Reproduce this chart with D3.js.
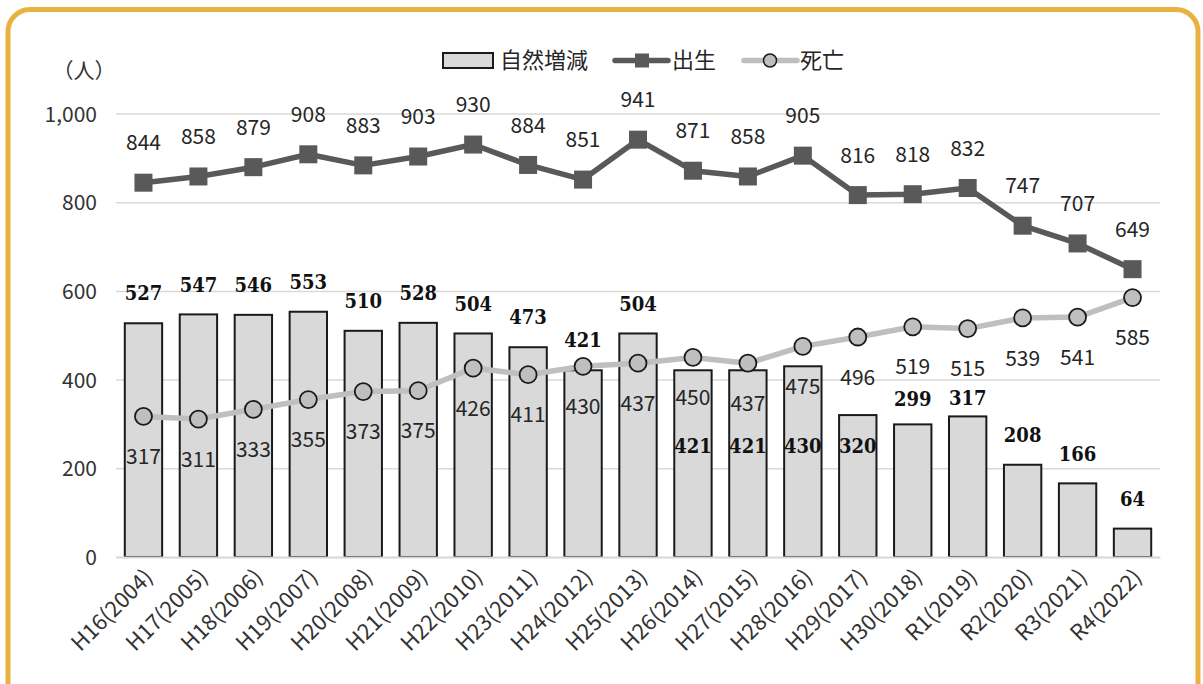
<!DOCTYPE html>
<html>
<head>
<meta charset="utf-8">
<script src="https://cdn.jsdelivr.net/npm/d3@7/dist/d3.min.js"></script>
<style>
  html, body { margin: 0; padding: 0; background: #fff; }
  svg { display: block; }
</style>
</head>
<body>
<svg id="chart" width="1203" height="684"></svg>
<script>
// ---- data ----
const categories = ["H16(2004)","H17(2005)","H18(2006)","H19(2007)","H20(2008)","H21(2009)","H22(2010)","H23(2011)","H24(2012)","H25(2013)","H26(2014)","H27(2015)","H28(2016)","H29(2017)","H30(2018)","R1(2019)","R2(2020)","R3(2021)","R4(2022)"];
const births = [844,858,879,908,883,903,930,884,851,941,871,858,905,816,818,832,747,707,649];
const deaths = [317,311,333,355,373,375,426,411,430,437,450,437,475,496,519,515,539,541,585];
const naturalChange = [527,547,546,553,510,528,504,473,421,504,421,421,430,320,299,317,208,166,64];
const yTicks = [0,200,400,600,800,1000];
const seriesNames = ["自然増減","出生","死亡"];
const unitLabel = "（人）";

// ---- layout ----
const W = 1203, H = 684;
const plot = {left: 116, right: 1160, top: 113.5, bottom: 557};
const svg = d3.select("#chart");
const sansFont = "'Noto Sans CJK JP', 'Noto Sans', sans-serif";
const serifFont = "'DejaVu Serif Condensed', 'DejaVu Serif', serif";

// border
svg.append("rect")
  .attr("x", 8).attr("y", 9.5).attr("width", W - 13).attr("height", H + 40)
  .attr("rx", 22).attr("ry", 22)
  .attr("fill", "#fff").attr("stroke", "#E9B23E").attr("stroke-width", 5);

const x = d3.scaleBand().domain(categories).range([plot.left, plot.right])
  .paddingInner(0.32).paddingOuter(0.16);
const y = d3.scaleLinear().domain([0, 1000]).range([plot.bottom, plot.top]);
const cx = c => x(c) + x.bandwidth() / 2;

// gridlines + y labels
const yAxis = d3.axisLeft(y).tickValues(yTicks).tickSize(0).tickPadding(0)
  .tickFormat(d3.format(","));
const gy = svg.append("g").attr("transform", `translate(${plot.left},0)`).call(yAxis);
gy.select(".domain").remove();
gy.selectAll(".tick line").clone()
  .attr("x2", plot.right - plot.left)
  .attr("stroke", "#d9d9d9").attr("stroke-width", 1.5);
gy.selectAll(".tick text")
  .attr("x", -19).attr("dy", "0.36em")
  .attr("font-family", sansFont).attr("font-size", 21).attr("fill", "#333");

// unit label
svg.append("text").attr("x", 84).attr("y", 70).attr("dy", "0.36em")
  .attr("text-anchor", "middle").attr("font-family", sansFont)
  .attr("font-size", 21).attr("fill", "#333").text(unitLabel);

// bars
svg.append("g").selectAll("rect").data(naturalChange).join("rect")
  .attr("x", (d, i) => x(categories[i]))
  .attr("y", d => y(d))
  .attr("width", x.bandwidth())
  .attr("height", d => y(0) - y(d))
  .attr("fill", "#d9d9d9").attr("stroke", "#1a1a1a").attr("stroke-width", 2);

// x axis baseline
const xAxis = d3.axisBottom(x).tickSize(0).tickPadding(0);
const gx = svg.append("g").attr("transform", `translate(0,${plot.bottom})`).call(xAxis);
gx.select(".domain").attr("stroke", "#d9d9d9").attr("stroke-width", 2);
gx.selectAll(".tick text")
  .attr("text-anchor", "end")
  .attr("transform", "translate(5,16) rotate(-45)")
  .attr("dy", "0.36em").attr("y", 0)
  .attr("font-family", sansFont).attr("font-size", 22).attr("fill", "#333");

// deaths line
const line = d3.line().x((d, i) => cx(categories[i])).y(d => y(d));
svg.append("path").datum(deaths).attr("d", line)
  .attr("fill", "none").attr("stroke", "#bfbfbf").attr("stroke-width", 5.5)
  .attr("stroke-linejoin", "round");

// births line
svg.append("path").datum(births).attr("d", line)
  .attr("fill", "none").attr("stroke", "#595959").attr("stroke-width", 5.5)
  .attr("stroke-linejoin", "round");

// births markers
const sq = 18;
svg.append("g").selectAll("rect").data(births).join("rect")
  .attr("x", (d, i) => cx(categories[i]) - sq / 2)
  .attr("y", d => y(d) - sq / 2)
  .attr("width", sq).attr("height", sq)
  .attr("fill", "#595959");

// deaths markers
svg.append("g").selectAll("circle").data(deaths).join("circle")
  .attr("cx", (d, i) => cx(categories[i]))
  .attr("cy", d => y(d))
  .attr("r", 8.5)
  .attr("fill", "#bfbfbf").attr("stroke", "#1a1a1a").attr("stroke-width", 1.8);

// births labels (above)
svg.append("g").selectAll("text").data(births).join("text")
  .attr("x", (d, i) => cx(categories[i]))
  .attr("y", d => y(d) - 40).attr("dy", "0.36em")
  .attr("text-anchor", "middle").attr("font-family", sansFont)
  .attr("font-size", 21).attr("fill", "#262626").text(d => d);

// deaths labels (below)
svg.append("g").selectAll("text").data(deaths).join("text")
  .attr("x", (d, i) => cx(categories[i]))
  .attr("y", d => y(d) + 40).attr("dy", "0.36em")
  .attr("text-anchor", "middle").attr("font-family", sansFont)
  .attr("font-size", 21).attr("fill", "#262626").text(d => d);

// natural change labels: above bar by default, some placed inside to avoid overlap
const insideLabel = new Set([10, 11, 12, 13]);
const labelGap = i => (i === 15 ? 19 : i === 14 ? 26 : 30);
svg.append("g").selectAll("text").data(naturalChange).join("text")
  .attr("x", (d, i) => cx(categories[i]))
  .attr("y", (d, i) => insideLabel.has(i) ? y(250) : y(d) - labelGap(i))
  .attr("dy", "0.36em")
  .attr("text-anchor", "middle").attr("font-family", serifFont)
  .attr("font-weight", "bold").attr("font-size", 20).attr("fill", "#111")
  .text(d => d);

// legend
const lg = svg.append("g");
const ly = 60.5;
lg.append("rect").attr("x", 443).attr("y", 53).attr("width", 50).attr("height", 15)
  .attr("fill", "#d9d9d9").attr("stroke", "#1a1a1a").attr("stroke-width", 2);
lg.append("text").attr("x", 500).attr("y", ly).attr("dy", "0.36em")
  .attr("font-family", sansFont).attr("font-size", 22).attr("fill", "#262626").text(seriesNames[0]);
lg.append("line").attr("x1", 615).attr("x2", 668).attr("y1", ly).attr("y2", ly)
  .attr("stroke", "#595959").attr("stroke-width", 5.5).attr("stroke-linecap", "round");
lg.append("rect").attr("x", 635).attr("y", ly - 7).attr("width", 14).attr("height", 14)
  .attr("fill", "#595959");
lg.append("text").attr("x", 672).attr("y", ly).attr("dy", "0.36em")
  .attr("font-family", sansFont).attr("font-size", 22).attr("fill", "#262626").text(seriesNames[1]);
lg.append("line").attr("x1", 744).attr("x2", 797).attr("y1", ly).attr("y2", ly)
  .attr("stroke", "#bfbfbf").attr("stroke-width", 5.5).attr("stroke-linecap", "round");
lg.append("circle").attr("cx", 770).attr("cy", ly).attr("r", 6.5)
  .attr("fill", "#bfbfbf").attr("stroke", "#1a1a1a").attr("stroke-width", 1.5);
lg.append("text").attr("x", 800).attr("y", ly).attr("dy", "0.36em")
  .attr("font-family", sansFont).attr("font-size", 22).attr("fill", "#262626").text(seriesNames[2]);
</script>
</body>
</html>
